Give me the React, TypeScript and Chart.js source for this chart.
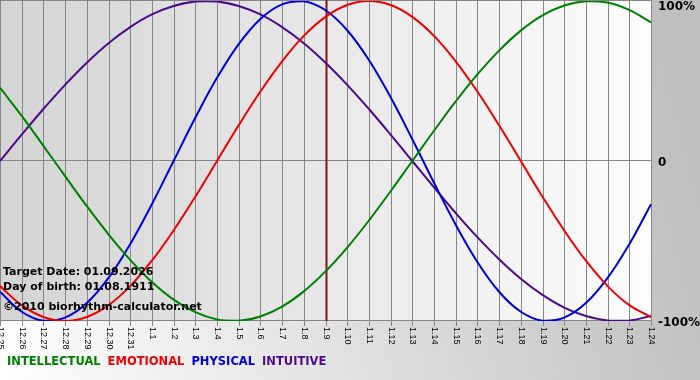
import React, { useEffect, useRef } from "react";
import { Chart, registerables } from "chart.js";

Chart.register(...registerables);

const categories = [
  "12.25", "12.26", "12.27", "12.28", "12.29", "12.30", "12.31",
  "1.1", "1.2", "1.3", "1.4", "1.5", "1.6", "1.7", "1.8", "1.9", "1.10",
  "1.11", "1.12", "1.13", "1.14", "1.15", "1.16", "1.17", "1.18", "1.19",
  "1.20", "1.21", "1.22", "1.23", "1.24",
];

const intellectual = [45.8, 28.2, 9.5, -9.5, -28.2, -45.8, -61.8, -75.6, -86.6, -94.5, -99.0, -99.9, -97.2, -91.0, -81.5, -69.0, -54.1, -37.2, -18.9, 0, 18.9, 37.2, 54.1, 69.0, 81.5, 91.0, 97.2, 99.9, 99.0, 94.5, 86.6];
const emotional = [-78.2, -90.1, -97.5, -100, -97.5, -90.1, -78.2, -62.3, -43.4, -22.3, 0, 22.3, 43.4, 62.3, 78.2, 90.1, 97.5, 100, 97.5, 90.1, 78.2, 62.3, 43.4, 22.3, 0, -22.3, -43.4, -62.3, -78.2, -90.1, -97.5];
const physical = [-81.7, -94.2, -99.8, -97.9, -88.8, -73.1, -52.0, -27.0, 0, 27.0, 52.0, 73.1, 88.8, 97.9, 99.8, 94.2, 81.7, 63.1, 39.8, 13.6, -13.6, -39.8, -63.1, -81.7, -94.2, -99.8, -97.9, -88.8, -73.1, -52.0, -27.0];
const intuitive = [0, 16.5, 32.5, 47.6, 61.4, 73.6, 83.7, 91.6, 96.9, 99.7, 99.7, 96.9, 91.6, 83.7, 73.6, 61.4, 47.6, 32.5, 16.5, 0, -16.5, -32.5, -47.6, -61.4, -73.6, -83.7, -91.6, -96.9, -99.7, -99.7, -96.9];

const seriesNames = ["INTELLECTUAL", "EMOTIONAL", "PHYSICAL", "INTUITIVE"];
const seriesColors = ["#008000", "#ee0000", "#0000dd", "#4a0a8a"];

const yTickValues = [100, 0, -100];
const yTickLabels = ["100%", "0", "-100%"];

const targetDay = "1.9";
const infoLines = [
  "Target Date: 01.09.2026",
  "Day of birth: 01.08.1911",
  "\u00A92010 biorhythm-calculator.net",
];

const decorPlugin = {
  id: "decor",
  beforeDraw(chart: any) {
    const { ctx, chartArea: a, width, height } = chart;
    ctx.save();
    const g = ctx.createLinearGradient(0, height, width, 200);
    g.addColorStop(0, "#ffffff");
    g.addColorStop(1, "#bfbfbf");
    ctx.fillStyle = g;
    ctx.fillRect(0, 0, width, height);
    const pg = ctx.createLinearGradient(a.left, 0, a.right, 0);
    pg.addColorStop(0, "#d4d4d4");
    pg.addColorStop(1, "#fdfdfd");
    ctx.fillStyle = pg;
    ctx.fillRect(a.left, 0, a.right - a.left, a.bottom);
    ctx.restore();
  },
  beforeDatasetsDraw(chart: any) {
    const { ctx, chartArea: a } = chart;
    const xs = chart.scales.x;
    const ys = chart.scales.y;
    ctx.save();
    ctx.strokeStyle = "#868686";
    ctx.lineWidth = 1;
    categories.forEach((_, i) => {
      const x = Math.round(xs.getPixelForValue(i)) + 0.5;
      ctx.beginPath();
      ctx.moveTo(x, 0);
      ctx.lineTo(x, a.bottom + 5);
      ctx.stroke();
    });
    yTickValues.forEach((v) => {
      const y = Math.round(ys.getPixelForValue(v)) - 0.5;
      ctx.beginPath();
      ctx.moveTo(a.left, y);
      ctx.lineTo(a.right + 1, y);
      ctx.stroke();
    });
    const ti = categories.indexOf(targetDay);
    const tx = Math.round(xs.getPixelForValue(ti)) + 0.5;
    ctx.strokeStyle = "#7e1616";
    ctx.lineWidth = 2;
    ctx.beginPath();
    ctx.moveTo(tx, 0);
    ctx.lineTo(tx, a.bottom);
    ctx.stroke();
    ctx.restore();
  },
  afterDraw(chart: any) {
    const { ctx, chartArea: a } = chart;
    const xs = chart.scales.x;
    const ys = chart.scales.y;
    ctx.save();
    ctx.fillStyle = "#000000";
    ctx.font = "bold 12px 'DejaVu Sans'";
    ctx.textAlign = "left";
    ctx.textBaseline = "middle";
    yTickValues.forEach((v, i) => {
      let y = ys.getPixelForValue(v) + 2;
      if (y < 7) y = 7;
      ctx.fillText(yTickLabels[i], a.right + 7, y);
    });
    ctx.font = "9px 'Liberation Sans'";
    categories.forEach((c, i) => {
      const x = xs.getPixelForValue(i);
      ctx.save();
      ctx.translate(x + 0.5, a.bottom + 6);
      ctx.rotate(Math.PI / 2);
      ctx.textAlign = "left";
      ctx.textBaseline = "middle";
      ctx.fillText(c, 0, 0);
      ctx.restore();
    });
    ctx.font = "bold 11px 'DejaVu Sans'";
    ctx.textAlign = "left";
    ctx.textBaseline = "middle";
    const infoY = [272, 287.5, 307];
    infoLines.forEach((t, i) => ctx.fillText(t, 3, infoY[i]));
    ctx.font = "bold 11.5px 'DejaVu Sans'";
    let lx = 7;
    seriesNames.forEach((n, i) => {
      ctx.fillStyle = seriesColors[i];
      ctx.fillText(n, lx, 362);
      lx += ctx.measureText(n).width + 7;
    });
    ctx.restore();
  },
};

export default function App() {
  const ref = useRef<HTMLCanvasElement | null>(null);
  useEffect(() => {
    document.body.style.margin = "0";
    if (!ref.current) return;
    const values = [intellectual, emotional, physical, intuitive];
    const chart = new Chart(ref.current, {
      type: "line",
      data: {
        labels: categories,
        datasets: values.map((d, i) => ({
          label: seriesNames[i],
          data: d,
          borderColor: seriesColors[i],
          borderWidth: 2,
          pointRadius: 0,
          tension: 0.4,
          fill: false,
        })),
      },
      options: {
        animation: false,
        responsive: false,
        devicePixelRatio: 1,
        layout: { padding: { left: 0, top: 1, right: 49, bottom: 59 } },
        scales: {
          x: { type: "category", display: false, offset: false },
          y: { display: false, min: -100, max: 100 },
        },
        plugins: { legend: { display: false }, tooltip: { enabled: false } },
      },
      plugins: [decorPlugin],
    });
    return () => chart.destroy();
  }, []);
  return (
    <div style={{ width: 700, height: 380 }}>
      <canvas ref={ref} width={700} height={380} />
    </div>
  );
}
